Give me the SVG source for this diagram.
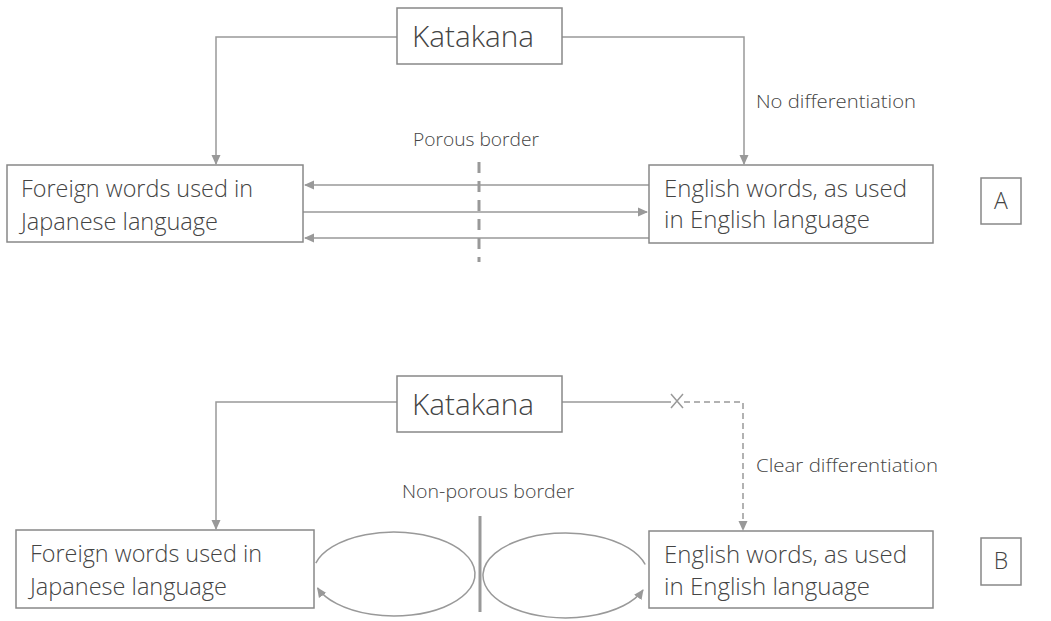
<svg xmlns="http://www.w3.org/2000/svg" width="1051" height="621" viewBox="0 0 1051 621">
<defs>
<marker id="ah" markerWidth="10" markerHeight="10" refX="9" refY="5" orient="auto" markerUnits="userSpaceOnUse">
<path d="M0,0.5 L10,5 L0,9.5 Z" fill="#999"/>
</marker>
<style>
.box{fill:#fff;stroke:#888;stroke-width:1.5}
.t{font-family:"Open Sans","Noto Sans",sans-serif;font-weight:300;fill:#444}
.big{font-size:29px}
.mid{font-size:23px}
.sm{font-size:19px}
.ln{fill:none;stroke:#999;stroke-width:1.5}
.dash{stroke-dasharray:6 4}
</style>
</defs>
<rect width="1051" height="621" fill="#fff"/>
<g id="connectors">
<path class="ln" d="M397,37 H216 V164" marker-end="url(#ah)"/>
<path class="ln" d="M562,37 H744 V164" marker-end="url(#ah)"/>
<path class="ln" d="M649,185 H305" marker-end="url(#ah)"/>
<path class="ln" d="M303,212 H647" marker-end="url(#ah)"/>
<path class="ln" d="M649,238 H305" marker-end="url(#ah)"/>
<line x1="479" y1="162" x2="479" y2="262" stroke="#999" stroke-width="3" stroke-dasharray="11 8"/>
<path class="ln" d="M397,402 H216 V529" marker-end="url(#ah)"/>
<path class="ln" d="M562,402 H671"/>
<path class="ln dash" d="M684,402 H743 V530" marker-end="url(#ah)"/>
<path class="ln" d="M671,394 L683,408 M683,394 L671,408"/>
<line x1="480" y1="516" x2="480" y2="612" stroke="#999" stroke-width="3"/>
<path class="ln" d="M315.8,563.1 A81,42 0 1 1 317.6,588" marker-end="url(#ah)"/>
<path class="ln" d="M645.2,564.5 A82.5,42.5 0 1 0 643,590" marker-end="url(#ah)"/>
</g>
<g id="katakana-a">
<rect class="box" x="397" y="8" width="165" height="56"/>
<text class="t big" x="412" y="47" textLength="122" lengthAdjust="spacingAndGlyphs">Katakana</text>
</g>
<g id="label-no-diff"><text class="t sm" x="756" y="108" textLength="160" lengthAdjust="spacingAndGlyphs">No differentiation</text></g>
<g id="label-porous"><text class="t sm" x="413" y="146" textLength="126" lengthAdjust="spacingAndGlyphs">Porous border</text></g>
<g id="foreign-a">
<rect class="box" x="7" y="165" width="296" height="77"/>
<text class="t mid" x="21" y="197" textLength="232" lengthAdjust="spacingAndGlyphs">Foreign words used in</text>
<text class="t mid" x="21" y="230" textLength="197" lengthAdjust="spacingAndGlyphs">Japanese language</text>
</g>
<g id="english-a">
<rect class="box" x="649" y="165" width="284" height="78"/>
<text class="t mid" x="664" y="197" textLength="243" lengthAdjust="spacingAndGlyphs">English words, as used</text>
<text class="t mid" x="664" y="228" textLength="206" lengthAdjust="spacingAndGlyphs">in English language</text>
</g>
<g id="tag-a">
<rect class="box" x="981" y="178" width="40" height="46"/>
<text class="t mid" x="1001" y="209" text-anchor="middle">A</text>
</g>
<g id="katakana-b">
<rect class="box" x="397" y="376" width="165" height="56"/>
<text class="t big" x="412" y="415" textLength="122" lengthAdjust="spacingAndGlyphs">Katakana</text>
</g>
<g id="label-clear-diff"><text class="t sm" x="756" y="472" textLength="182" lengthAdjust="spacingAndGlyphs">Clear differentiation</text></g>
<g id="label-nonporous"><text class="t sm" x="402" y="498" textLength="172" lengthAdjust="spacingAndGlyphs">Non-porous border</text></g>
<g id="foreign-b">
<rect class="box" x="16" y="530" width="298" height="78"/>
<text class="t mid" x="30" y="562" textLength="232" lengthAdjust="spacingAndGlyphs">Foreign words used in</text>
<text class="t mid" x="30" y="595" textLength="197" lengthAdjust="spacingAndGlyphs">Japanese language</text>
</g>
<g id="english-b">
<rect class="box" x="649" y="531" width="284" height="77"/>
<text class="t mid" x="664" y="563" textLength="243" lengthAdjust="spacingAndGlyphs">English words, as used</text>
<text class="t mid" x="664" y="595" textLength="206" lengthAdjust="spacingAndGlyphs">in English language</text>
</g>
<g id="tag-b">
<rect class="box" x="981" y="538" width="40" height="47"/>
<text class="t mid" x="1001" y="569" text-anchor="middle">B</text>
</g>
</svg>
